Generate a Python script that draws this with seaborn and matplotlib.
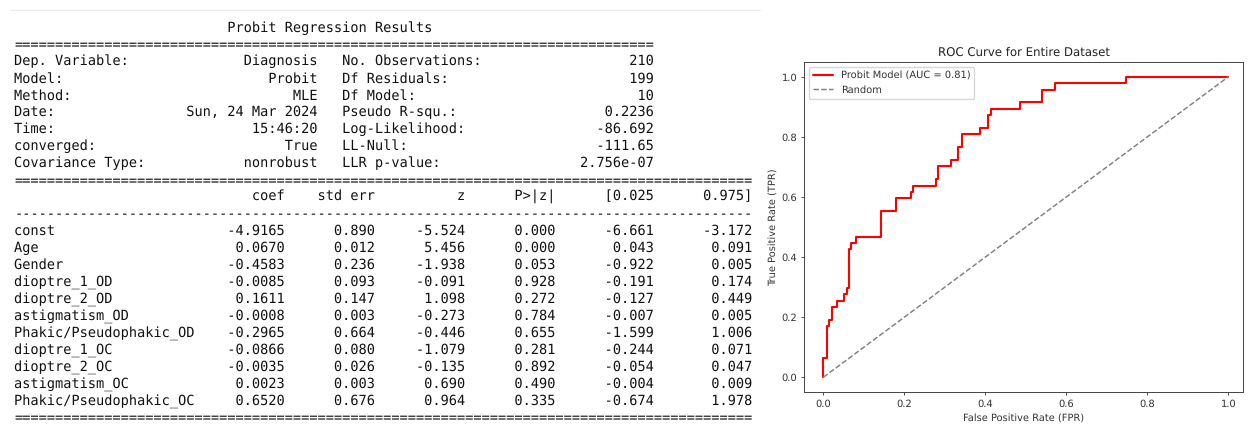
import numpy as np
import matplotlib
matplotlib.use("Agg")
import matplotlib.pyplot as plt
from matplotlib.lines import Line2D
import seaborn as sns

# ---- model summary values ----
title = "Probit Regression Results"

info_left_labels = ["Dep. Variable:", "Model:", "Method:", "Date:", "Time:",
                    "converged:", "Covariance Type:"]
info_left_values = ["Diagnosis", "Probit", "MLE", "Sun, 24 Mar 2024", "15:46:20",
                    "True", "nonrobust"]
info_right_labels = ["No. Observations:", "Df Residuals:", "Df Model:",
                     "Pseudo R-squ.:", "Log-Likelihood:", "LL-Null:", "LLR p-value:"]
info_right_values = ["210", "199", "10", "0.2236", "-86.692", "-111.65", "2.756e-07"]

param_names = ["const", "Age", "Gender", "dioptre_1_OD", "dioptre_2_OD",
               "astigmatism_OD", "Phakic/Pseudophakic_OD", "dioptre_1_OC",
               "dioptre_2_OC", "astigmatism_OC", "Phakic/Pseudophakic_OC"]
coef = [-4.9165, 0.0670, -0.4583, -0.0085, 0.1611, -0.0008, -0.2965, -0.0866,
        -0.0035, 0.0023, 0.6520]
std_err = [0.890, 0.012, 0.236, 0.093, 0.147, 0.003, 0.664, 0.080, 0.026, 0.003, 0.676]
z_vals = [-5.524, 5.456, -1.938, -0.091, 1.098, -0.273, -0.446, -1.079, -0.135,
          0.690, 0.964]
p_vals = [0.000, 0.000, 0.053, 0.928, 0.272, 0.784, 0.655, 0.281, 0.892, 0.490, 0.335]
ci_low = [-6.661, 0.043, -0.922, -0.191, -0.127, -0.007, -1.599, -0.244, -0.054,
          -0.004, -0.674]
ci_high = [-3.172, 0.091, 0.005, 0.174, 0.449, 0.005, 1.006, 0.071, 0.047, 0.009, 1.978]

# ---- ROC curve points (corner points of the step curve) ----
fpr = [0.000, 0.000, 0.008, 0.008, 0.014, 0.014, 0.021, 0.021, 0.034, 0.034,
       0.052, 0.052, 0.059, 0.059, 0.064, 0.064, 0.068, 0.068, 0.081, 0.081,
       0.143, 0.143, 0.180, 0.180, 0.216, 0.216, 0.222, 0.222, 0.277, 0.277,
       0.284, 0.284, 0.315, 0.315, 0.332, 0.332, 0.342, 0.342, 0.386, 0.386,
       0.406, 0.406, 0.414, 0.414, 0.486, 0.486, 0.540, 0.540, 0.571, 0.571,
       0.748, 0.748, 1.000]
tpr = [0.000, 0.064, 0.064, 0.170, 0.170, 0.191, 0.191, 0.234, 0.234, 0.255,
       0.255, 0.277, 0.277, 0.298, 0.298, 0.426, 0.426, 0.447, 0.447, 0.468,
       0.468, 0.553, 0.553, 0.596, 0.596, 0.617, 0.617, 0.638, 0.638, 0.660,
       0.660, 0.702, 0.702, 0.723, 0.723, 0.766, 0.766, 0.809, 0.809, 0.830,
       0.830, 0.872, 0.872, 0.894, 0.894, 0.915, 0.915, 0.957, 0.957, 0.979,
       0.979, 1.000, 1.000]
chance = [0.0, 1.0]

# ---- figure ----
sns.set_theme(style="ticks")
plt.rcParams["font.family"] = ["DejaVu Sans"]
plt.rcParams["text.hinting"] = "no_hinting"

W, H = 1248, 424
fig = plt.figure(figsize=(W / 100, H / 100), dpi=100)
fig.patch.set_facecolor("white")

# summary table as monospaced text
lines = [" " * 26 + title, "=" * 78]
for ll, lv, rl, rv in zip(info_left_labels, info_left_values,
                          info_right_labels, info_right_values):
    left = ll + lv.rjust(37 - len(ll))
    right = rl + rv.rjust(38 - len(rl))
    lines.append(left + "   " + right)
lines.append("=" * 90)
lines.append(" " * 22 + "coef".rjust(11) + "std err".rjust(11) + "z".rjust(11)
             + "P>|z|".rjust(11) + "[0.025".rjust(12) + "0.975]".rjust(12))
lines.append("-" * 90)
for n, c, s, zz, p, lo, hi in zip(param_names, coef, std_err, z_vals, p_vals,
                                  ci_low, ci_high):
    lines.append(n.ljust(22) + f"{c:.4f}".rjust(11) + f"{s:.3f}".rjust(11)
                 + f"{zz:.3f}".rjust(11) + f"{p:.3f}".rjust(11)
                 + f"{lo:.3f}".rjust(12) + f"{hi:.3f}".rjust(12))
lines.append("=" * 90)

base0, pitch = 31.5, 16.96
for i, line in enumerate(lines):
    fig.text(14.5 / W, 1 - (base0 + pitch * i) / H, line,
             family="DejaVu Sans Mono", fontsize=9.77, color="#111111",
             ha="left", va="baseline")

fig.add_artist(Line2D([10 / W, 760 / W], [1 - 10 / H, 1 - 10 / H],
                      color="#ececec", lw=0.8))

# ROC panel
ax = fig.add_axes([804.3 / W, 1 - 392.3 / H, (1243 - 804.3) / W, (392.3 - 61.7) / H])
ax.set_facecolor("white")

auc = np.trapezoid(tpr, fpr)
sns.lineplot(x=fpr, y=tpr, ax=ax, color="red", lw=1.5, sort=False,
             estimator=None, label=f"Probit Model (AUC = {auc:.2f})")
sns.lineplot(x=chance, y=chance, ax=ax, color="gray", lw=1.05, linestyle="--",
             sort=False, estimator=None, label="Random")

ax.set_xlim(-0.047, 1.036)
ax.set_ylim(-0.05, 1.05)
ax.set_xticks(np.arange(0, 1.01, 0.2))
ax.set_yticks(np.arange(0, 1.01, 0.2))
ax.tick_params(labelsize=7.1, length=2.5, width=0.6, pad=2.5, colors="#333333")
for sp in ax.spines.values():
    sp.set_color("#444444")
    sp.set_linewidth(0.7)
ax.set_xlabel("False Positive Rate (FPR)", fontsize=7.1, color="#333333", labelpad=2.8)
ax.set_ylabel("True Positive Rate (TPR)", fontsize=7.1, color="#333333", labelpad=2.8)
ax.set_title("ROC Curve for Entire Dataset", fontsize=8.5, color="#222222", pad=4.3)
leg = ax.legend(loc="upper left", fontsize=7.1, frameon=True, framealpha=0.8,
                edgecolor="#cccccc", borderaxespad=0.5)
for t in leg.get_texts():
    t.set_color("#333333")

fig.savefig("out.png", dpi=100, facecolor="white")
